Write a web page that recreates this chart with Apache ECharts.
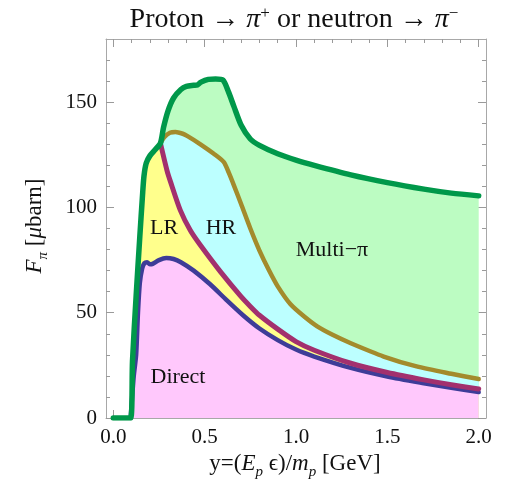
<!DOCTYPE html>
<html>
<head>
<meta charset="utf-8">
<script src="https://cdn.jsdelivr.net/npm/echarts@6/dist/echarts.min.js"></script>
<style>
  html, body { margin: 0; padding: 0; background: #fff; }
  #chart { width: 508px; height: 491px; }
</style>
</head>
<body>
<div id="chart"></div>
<script>
// Pion yield F_pi (microbarn) versus y = E_p*eps/m_p (GeV), split by production channel.
// Each curve is cumulative: direct, direct+LR, direct+LR+HR, total (incl. multi-pion).
const totalCurve = [
  [0.00, 0], [0.095, 0], [0.105, 27], [0.125, 58], [0.145, 86], [0.16, 106], [0.168, 115],
  [0.18, 121], [0.2, 124.5], [0.23, 127.5], [0.258, 130.5], [0.275, 138], [0.3, 146],
  [0.33, 152], [0.37, 156], [0.4, 157.5], [0.44, 158], [0.46, 158.2], [0.48, 159.5],
  [0.52, 160.8], [0.56, 161], [0.6, 160.5], [0.63, 155], [0.66, 148], [0.7, 139],
  [0.75, 132.5], [0.8, 129.5], [0.9, 125.5], [1.0, 122.5], [1.1, 120], [1.3, 115.5],
  [1.5, 111.8], [1.7, 108.7], [1.85, 106.8], [2.0, 105.5]
];
const directCurve = [
  [0.095, 0], [0.112, 20], [0.125, 30], [0.135, 50], [0.145, 64], [0.158, 71], [0.17, 73.5],
  [0.185, 74], [0.2, 73], [0.215, 73.2], [0.25, 75], [0.29, 76], [0.33, 75.5], [0.37, 74],
  [0.44, 70], [0.53, 63.5], [0.62, 56], [0.71, 48.8], [0.8, 42.5], [0.9, 37],
  [1.0, 32.5], [1.1, 29.2], [1.3, 23.8], [1.5, 19.7], [1.7, 16.5], [1.85, 14.3], [2.0, 12.3]
];
const directLRCurve = [
  [0.258, 130.5], [0.294, 117.5], [0.312, 112.5], [0.367, 98.6], [0.422, 89], [0.477, 82],
  [0.586, 69.5], [0.696, 58], [0.75, 53], [0.8, 48.8], [0.9, 42.2], [1.0, 36.3], [1.1, 32.2],
  [1.3, 26], [1.5, 21.6], [1.7, 18.1], [1.85, 15.8], [2.0, 13.8]
];
const directLRHRCurve = [
  [0.258, 130.5], [0.28, 133.5], [0.31, 135.5], [0.34, 135.8], [0.38, 135], [0.404, 134],
  [0.477, 130], [0.55, 125.5], [0.605, 121.5], [0.632, 116.5], [0.66, 110.5], [0.7, 101.5],
  [0.75, 90], [0.8, 79.5], [0.85, 70.5], [0.9, 62.5], [0.97, 54], [1.05, 47.8],
  [1.116, 43.5], [1.2, 39.5], [1.3, 35.5], [1.48, 29.2], [1.66, 24.5], [1.85, 21], [2.0, 18.5]
];
const xTickLabels = [0, 0.5, 1.0, 1.5, 2.0];
const yTickLabels = [0, 50, 100, 150];

// Minor tick positions every 0.1 along x and every 10 along y
const xMinor = [];
for (let i = 0; i <= 20; i++) xMinor.push(+(i * 0.1).toFixed(2));
const yMinor = [];
for (let i = 0; i <= 17; i++) yMinor.push(i * 10);

// Below the branch point the upper channels coincide with the total curve
const branchX = directLRCurve[0][0];
const leftOfBranch = totalCurve.filter(p => p[0] > 0 && p[0] < branchX);
const lrArea = leftOfBranch.concat(directLRCurve);
const hrArea = leftOfBranch.concat(directLRHRCurve);
const directArea = directCurve;
const totalArea = totalCurve.filter(p => p[0] >= 0.095);

const SERIF = '"Liberation Serif", "DejaVu Serif", serif';
const frameColor = '#a8a8a8';
const tickColor = '#9a9a9a';
const SMOOTH = 0.25;

function xAxisDef(pos, major, showLabel) {
  return {
    type: 'value', position: pos, min: -0.04, max: 2.04,
    axisLine: { show: major, onZero: false, lineStyle: { color: frameColor, width: 1 } },
    axisTick: {
      show: true, inside: true, length: major ? 8 : 4,
      customValues: major ? xTickLabels : xMinor,
      lineStyle: { color: tickColor, width: 1 }
    },
    axisLabel: {
      show: showLabel, customValues: xTickLabels, margin: 9,
      formatter: v => v.toFixed(1),
      fontFamily: SERIF, fontSize: 21, color: '#111'
    },
    splitLine: { show: false }
  };
}
function yAxisDef(pos, major, showLabel) {
  return {
    type: 'value', position: pos, min: 0, max: 180,
    axisLine: { show: major, onZero: false, lineStyle: { color: frameColor, width: 1 } },
    axisTick: {
      show: true, inside: true, length: major ? 8 : 4,
      customValues: major ? yTickLabels : yMinor,
      lineStyle: { color: tickColor, width: 1 }
    },
    axisLabel: {
      show: showLabel, customValues: yTickLabels, margin: 9,
      fontFamily: SERIF, fontSize: 21, color: '#111'
    },
    splitLine: { show: false }
  };
}

function areaSeries(data, color) {
  return {
    type: 'line', data, smooth: SMOOTH, showSymbol: false, silent: true,
    lineStyle: { width: 0 }, areaStyle: { color, opacity: 1 }
  };
}
function lineSeries(data, color, width) {
  return {
    type: 'line', data, smooth: SMOOTH, showSymbol: false, silent: true,
    lineStyle: { color, width, cap: 'round', join: 'round' }
  };
}

function mathRich(size) {
  return {
    r: { fontFamily: SERIF, fontSize: size, lineHeight: size + 4, fill: '#111', verticalAlign: 'top' },
    i: { fontFamily: SERIF, fontSize: size, fontStyle: 'italic', lineHeight: size + 4, fill: '#111', verticalAlign: 'top' },
    sub: { fontFamily: SERIF, fontSize: Math.round(size * 0.64), fontStyle: 'italic', lineHeight: 10, fill: '#111', verticalAlign: 'bottom' }
  };
}

const chart = echarts.init(document.getElementById('chart'), null, { renderer: 'canvas' });
chart.setOption({
  animation: false,
  backgroundColor: '#ffffff',
  grid: { left: 106, right: 22, top: 39, bottom: 73, containLabel: false },
  xAxis: [
    xAxisDef('bottom', true, true), xAxisDef('bottom', false, false),
    xAxisDef('top', true, false), xAxisDef('top', false, false)
  ],
  yAxis: [
    yAxisDef('left', true, true), yAxisDef('left', false, false),
    yAxisDef('right', true, false), yAxisDef('right', false, false)
  ],
  series: [
    areaSeries(totalArea, '#bcfcc2'),
    areaSeries(hrArea, '#bcffff'),
    areaSeries(lrArea, '#ffff8c'),
    areaSeries(directArea, '#ffc8fc'),
    lineSeries(directCurve, '#3e3c98', 4.5),
    lineSeries(directLRCurve, '#a2306e', 5),
    lineSeries(directLRHRCurve, '#a38b2c', 4.5),
    lineSeries(totalCurve, '#00984a', 5.5)
  ],
  graphic: [
    {
      type: 'text', x: 294, y: 18, z: 10,
      style: {
        text: '{r|Proton → }{i|π}{sup|+}{r| or neutron → }{i|π}{sup|−}',
        align: 'center', verticalAlign: 'middle',
        rich: {
          r: { fontFamily: SERIF, fontSize: 28, lineHeight: 32, fill: '#111', verticalAlign: 'bottom' },
          i: { fontFamily: SERIF, fontSize: 28, fontStyle: 'italic', lineHeight: 32, fill: '#111', verticalAlign: 'bottom' },
          sup: { fontFamily: SERIF, fontSize: 17, lineHeight: 26, padding: [3, 0, 0, 0], fill: '#111', verticalAlign: 'top' }
        }
      }
    },
    {
      type: 'text', x: 295, y: 466, z: 10,
      style: {
        text: '{r|y=(}{i|E}{sub|p}{r| ϵ)/}{i|m}{sub|p}{r| [GeV]}',
        align: 'center', verticalAlign: 'middle',
        rich: mathRich(23)
      }
    },
    {
      type: 'text', x: 37, y: 226, rotation: Math.PI / 2, z: 10,
      style: {
        text: '{i|F}{sub|π}{r| [}{i|μ}{r|barn]}',
        align: 'center', verticalAlign: 'middle',
        rich: mathRich(23)
      }
    },
    { type: 'text', x: 164, y: 228, z: 10, style: { text: 'LR', font: '22px ' + SERIF, fill: '#111', align: 'center', verticalAlign: 'middle' } },
    { type: 'text', x: 221, y: 228, z: 10, style: { text: 'HR', font: '22px ' + SERIF, fill: '#111', align: 'center', verticalAlign: 'middle' } },
    { type: 'text', x: 332, y: 250, z: 10, style: { text: 'Multi−π', font: '22px ' + SERIF, fill: '#111', align: 'center', verticalAlign: 'middle' } },
    { type: 'text', x: 178, y: 377, z: 10, style: { text: 'Direct', font: '22px ' + SERIF, fill: '#111', align: 'center', verticalAlign: 'middle' } }
  ]
});
</script>
</body>
</html>
